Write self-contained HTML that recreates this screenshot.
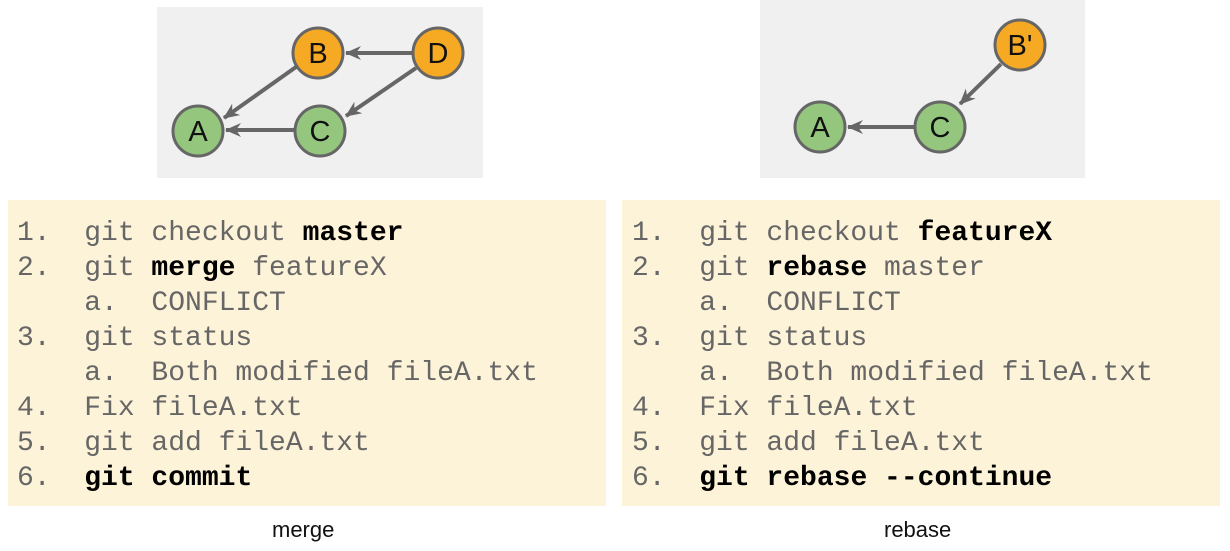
<!DOCTYPE html>
<html><head><style>
body{margin:0;width:1230px;height:551px;background:#fff;position:relative;overflow:hidden;font-family:"Liberation Sans",sans-serif}
.g{position:absolute;background:#f0f0f0}
.y{position:absolute;background:#fdf3d8;top:200px;height:306px;width:598px}
.t{position:absolute;font-family:"Liberation Mono",monospace;font-size:28px;color:#666;white-space:pre;line-height:35px;top:216px}
.t b{color:#000}
.cap{position:absolute;top:517px;font-size:22px;color:#111}
svg{position:absolute;left:0;top:0}
</style></head><body>
<div class="g" style="left:157px;top:7px;width:326px;height:171px"></div>
<div class="g" style="left:760px;top:0;width:325px;height:178px"></div>
<div class="y" style="left:8px"></div>
<div class="y" style="left:622px"></div>
<svg width="1230" height="551">
<defs><marker id="m" markerWidth="16" markerHeight="14" refX="15" refY="7" orient="auto" markerUnits="userSpaceOnUse"><path d="M0,0 L16,7 L0,14 L5,7z" fill="#666"/></marker></defs>
<g stroke="#666" stroke-width="4" marker-end="url(#m)">
<line x1="412" y1="53" x2="346" y2="53"/>
<line x1="296" y1="67" x2="224" y2="118"/>
<line x1="416" y1="68" x2="346" y2="116"/>
<line x1="294" y1="130" x2="226" y2="130"/>
<line x1="1001" y1="64" x2="960" y2="104"/>
<line x1="914" y1="127" x2="848" y2="127"/>
</g>
<g stroke="#666" stroke-width="3" font-family="Liberation Sans" font-size="29" text-anchor="middle">
<circle cx="318" cy="53" r="25" fill="#f6a923"/>
<circle cx="438" cy="53" r="25" fill="#f6a923"/>
<circle cx="198" cy="131" r="25" fill="#95c67e"/>
<circle cx="320" cy="131" r="25" fill="#95c67e"/>
<circle cx="1020" cy="45" r="25" fill="#f6a923"/>
<circle cx="820" cy="127" r="25" fill="#95c67e"/>
<circle cx="940" cy="127" r="25" fill="#95c67e"/>
<g stroke="none" fill="#111">
<text x="318" y="63">B</text><text x="438" y="63">D</text><text x="198" y="141">A</text><text x="320" y="141">C</text>
<text x="1020" y="55">B'</text><text x="820" y="137">A</text><text x="940" y="137">C</text>
</g></g>
</svg>
<div class="t" style="left:17px">1.  git checkout <b>master</b>
2.  git <b>merge</b> featureX
    a.  CONFLICT
3.  git status
    a.  Both modified fileA.txt
4.  Fix fileA.txt
5.  git add fileA.txt
6.  <b>git commit</b></div>
<div class="t" style="left:632px">1.  git checkout <b>featureX</b>
2.  git <b>rebase</b> master
    a.  CONFLICT
3.  git status
    a.  Both modified fileA.txt
4.  Fix fileA.txt
5.  git add fileA.txt
6.  <b>git rebase --continue</b></div>
<div class="cap" style="left:272px">merge</div>
<div class="cap" style="left:884px">rebase</div>
</body></html>
